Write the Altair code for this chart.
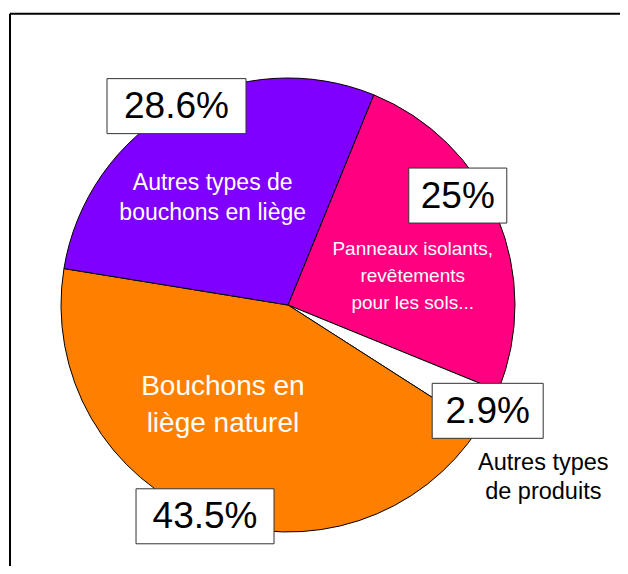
import altair as alt
import pandas as pd
import numpy as np

# ---- data ----
categories = [
    "Panneaux isolants, revêtements pour les sols...",
    "Autres types de produits",
    "Bouchons en liège naturel",
    "Autres types de bouchons en liège",
]
shares = [25.0, 2.9, 43.5, 28.6]
pct_labels = ["25%", "2.9%", "43.5%", "28.6%"]
name_lines = [
    ["Panneaux isolants,", "revêtements", "pour les sols..."],
    ["Autres types", "de produits"],
    ["Bouchons en", "liège naturel"],
    ["Autres types de", "bouchons en liège"],
]

# ---- styling / layout ----
slice_colors = ["#FF0080", "#FFFFFF", "#FF8000", "#8000FF"]
name_colors = ["#FFFFFF", "#000000", "#FFFFFF", "#FFFFFF"]
name_sizes = [19, 23.5, 28, 23]
name_line_h = [27, 29, 37, 30]
name_angle_off = [9.8, 6.6, 11.9, -5.8]   # degrees from slice mid-angle
name_radius = [128, 308, 120, 131]
box_angle_off = [-10.0, 0.5, 0.5, 0.0]
box_radius = [202, 226, 227, 228]
box_w = [98, 111, 138, 139]
box_h = 55
CX, CY, R = 280, 297, 227
START_DEG = 22.2
W, H = 612, 558

start_rad = np.deg2rad(START_DEG)

vals = np.array(shares)
cum_start = np.concatenate([[0], np.cumsum(vals)[:-1]])
mid = cum_start + vals / 2
total = vals.sum()
mid_deg = START_DEG + mid / total * 360.0

pie_df = pd.DataFrame({"cat": categories, "share": shares, "order": list(range(len(categories)))})

# percentage boxes
ba = np.deg2rad(mid_deg + np.array(box_angle_off))
bx = CX + np.array(box_radius) * np.sin(ba)
by = CY - np.array(box_radius) * np.cos(ba)
box_df = pd.DataFrame({
    "label": pct_labels,
    "x": bx, "y": by,
    "x1": bx - np.array(box_w) / 2, "x2": bx + np.array(box_w) / 2,
    "y1": by - box_h / 2, "y2": by + box_h / 2,
})

# category name labels
rows = []
na = np.deg2rad(mid_deg + np.array(name_angle_off))
for i, lines in enumerate(name_lines):
    cx = CX + name_radius[i] * np.sin(na[i])
    cy = CY - name_radius[i] * np.cos(na[i])
    n = len(lines)
    for j, t in enumerate(lines):
        rows.append({
            "text": t, "x": cx,
            "y": cy + (j - (n - 1) / 2) * name_line_h[i],
            "color": name_colors[i], "size": name_sizes[i],
        })
name_df = pd.DataFrame(rows)

pie = alt.Chart(pie_df).mark_arc(outerRadius=R, stroke="black", strokeWidth=1).encode(
    theta=alt.Theta("share:Q", stack=True,
                    scale=alt.Scale(range=[start_rad, start_rad + 2 * np.pi])),
    order=alt.Order("order:Q"),
    color=alt.Color("cat:N", scale=alt.Scale(domain=categories, range=slice_colors), legend=None),
    x=alt.value(CX), y=alt.value(CY),
)

boxes = alt.Chart(box_df).mark_rect(fill="white", stroke="#333333", strokeWidth=1).encode(
    x=alt.X("x1:Q", scale=None), x2="x2:Q",
    y=alt.Y("y1:Q", scale=None), y2="y2:Q",
)

box_text = alt.Chart(box_df).mark_text(
    font="Liberation Sans", fontSize=37, color="black", align="center", baseline="middle", dy=1
).encode(
    x=alt.X("x:Q", scale=None), y=alt.Y("y:Q", scale=None), text="label:N"
)

names = alt.Chart(name_df).mark_text(
    font="Liberation Sans", align="center", baseline="middle"
).encode(
    x=alt.X("x:Q", scale=None), y=alt.Y("y:Q", scale=None), text="text:N",
    color=alt.Color("color:N", scale=None),
    size=alt.Size("size:Q", scale=None),
)

frame_df = pd.DataFrame({"x": [2, 2], "x2": [2, W + 10], "y": [5.7, 5.7], "y2": [H + 10, 5.7]})
frame = alt.Chart(frame_df).mark_rule(color="black", strokeWidth=2).encode(
    x=alt.X("x:Q", scale=None), x2="x2:Q",
    y=alt.Y("y:Q", scale=None), y2="y2:Q",
)

chart = alt.layer(frame, pie, boxes, box_text, names).properties(
    width=W, height=H, padding=0, autosize="none"
).configure_view(stroke=None)

chart.save("out.html", embed_options={"renderer": "svg", "actions": False})
